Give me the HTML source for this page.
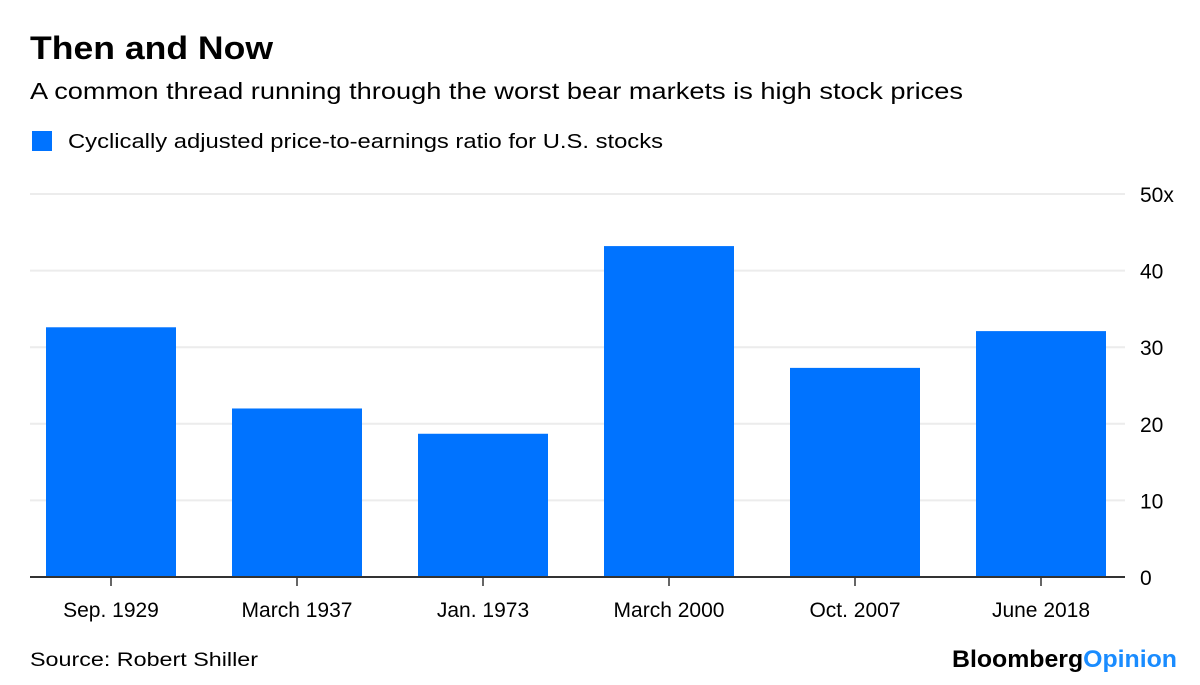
<!DOCTYPE html>
<html><head><meta charset="utf-8"><style>
body{margin:0;background:#fff;font-family:"Liberation Sans",sans-serif;}
#wrap{position:relative;width:1200px;height:685px;overflow:hidden;}
</style></head><body>
<div id="wrap">
<svg id="chart" width="1200" height="685">
<text x="30" y="59" font-size="32" font-weight="bold" fill="#000" textLength="243" lengthAdjust="spacingAndGlyphs">Then and Now</text>
<text x="30" y="99" font-size="23" fill="#000" textLength="933" lengthAdjust="spacingAndGlyphs">A common thread running through the worst bear markets is high stock prices</text>
<rect x="32" y="131" width="20" height="20" fill="#0073ff"/>
<text x="68" y="148" font-size="20" fill="#000" textLength="595" lengthAdjust="spacingAndGlyphs">Cyclically adjusted price-to-earnings ratio for U.S. stocks</text>
<g id="grid"></g><g id="bars"></g><g id="axis"></g>
<text x="30" y="666" font-size="19" fill="#000" textLength="228" lengthAdjust="spacingAndGlyphs">Source: Robert Shiller</text>
<text x="952" y="667" font-size="24" font-weight="bold" textLength="225" lengthAdjust="spacingAndGlyphs"><tspan fill="#000">Bloomberg</tspan><tspan fill="#1a8cff">Opinion</tspan></text>
</svg>
</div>
<script>
const categories=["Sep. 1929","March 1937","Jan. 1973","March 2000","Oct. 2007","June 2018"];
const values=[32.6,22.0,18.7,43.2,27.3,32.1];
const yTicks=[0,10,20,30,40,50];
const yTickLabels=["0","10","20","30","40","50x"];
const NS="http://www.w3.org/2000/svg";
const y0=577,y1=194,yMax=50;
function y(v){return y0-(v/yMax)*(y0-y1);}
function xc(i){return 111+186*i;}
function mk(tag,attrs,parent){const e=document.createElementNS(NS,tag);for(const k in attrs)e.setAttribute(k,attrs[k]);parent.appendChild(e);return e;}
const grid=document.getElementById('grid'),bars=document.getElementById('bars'),axis=document.getElementById('axis');
yTicks.forEach((t,i)=>{
 if(t>0){const l=mk('line',{x1:30,x2:1125,y1:y(t),y2:y(t),stroke:'#ececec','stroke-width':2},grid);
 
 }
 const tx=mk('text',{x:1140,y:y(t)+8,'font-size':21,fill:'#000'},axis);
 tx.textContent=yTickLabels[i];
 
 
});
values.forEach((v,i)=>{
 const r=mk('rect',{x:xc(i)-65,y:y(v),width:130,height:y0-y(v),fill:'#0073ff'},bars);
 
 
 const tk=mk('line',{x1:xc(i),x2:xc(i),y1:y0,y2:y0+9,stroke:'#333','stroke-width':1.5},axis);
 
 
 const lb=mk('text',{x:xc(i),y:617,'font-size':21,'text-anchor':'middle',fill:'#000'},axis);
 lb.textContent=categories[i];
 
 
});
const base=mk('line',{x1:30,x2:1125,y1:y0,y2:y0,stroke:'#333','stroke-width':2},axis);


</script>
</body></html>
